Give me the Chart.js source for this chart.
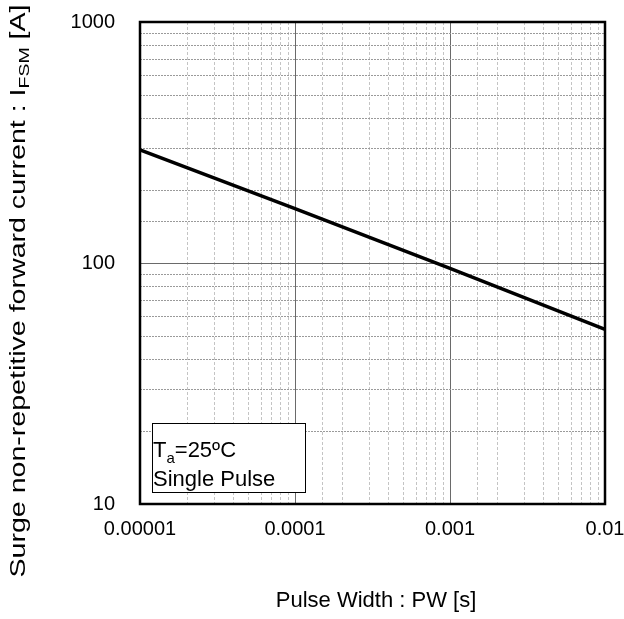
<!DOCTYPE html>
<html>
<head>
<meta charset="utf-8">
<script src="https://cdn.jsdelivr.net/npm/chart.js@4.4.1/dist/chart.umd.min.js"></script>
<style>
  html, body { margin: 0; padding: 0; background: #fff; }
  #wrap { width: 624px; height: 619px; }
</style>
</head>
<body>
<div id="wrap"><canvas id="surge-chart"></canvas></div>
<script>
// pulse width [s] and surge current [A]
const pulseWidth = [0.00001, 0.0001, 0.001, 0.01]
const surgeCurrent = [295, 168, 95, 53]

const xTickLabels = ['0.00001', '0.0001', '0.001', '0.01']
const yTickLabels = ['10', '100', '1000']

const FONT = '"Liberation Sans", Arial, sans-serif'

const isDecade = v => Math.abs(Math.log10(v) - Math.round(Math.log10(v))) < 1e-6

function decadeLabel(labels) {
    return function (value) {
        if (!isDecade(value)) return ''
        const hit = labels.find(l => Math.abs(parseFloat(l) - value) / value < 1e-6)
        return hit || ''
    }
}

// dashed minor grid + solid decade grid, drawn from the scale's own ticks
const gridPlugin = {
    id: 'logGrid',
    beforeDatasetsDraw(chart) {
        const { ctx, chartArea: a, scales } = chart
        ctx.save()
        scales.x.ticks.forEach(t => {
            const px = Math.round(scales.x.getPixelForValue(t.value)) + 0.5
            if (isDecade(t.value)) {
                ctx.strokeStyle = '#6a6a6a'; ctx.setLineDash([])
            } else {
                ctx.strokeStyle = '#c4c4c4'; ctx.setLineDash([3, 2])
            }
            ctx.lineWidth = 1
            ctx.beginPath(); ctx.moveTo(px, a.top); ctx.lineTo(px, a.bottom); ctx.stroke()
        })
        scales.y.ticks.forEach(t => {
            const py = Math.round(scales.y.getPixelForValue(t.value)) + 0.5
            if (isDecade(t.value)) {
                ctx.strokeStyle = '#6a6a6a'; ctx.setLineDash([])
            } else {
                ctx.strokeStyle = '#9a9a9a'; ctx.setLineDash([2, 1])
            }
            ctx.lineWidth = 1
            ctx.beginPath(); ctx.moveTo(a.left, py); ctx.lineTo(a.right, py); ctx.stroke()
        })
        ctx.restore()
    },
    afterDatasetsDraw(chart) {
        const { ctx, chartArea: a } = chart
        ctx.save()
        ctx.strokeStyle = '#000'
        ctx.lineWidth = 2.5
        ctx.strokeRect(a.left, a.top, a.right - a.left, a.bottom - a.top)

        // note box
        const bx = 152, by = 423, bw = 153, bh = 69
        ctx.fillStyle = '#fff'
        ctx.fillRect(bx, by, bw, bh)
        ctx.lineWidth = 1
        ctx.strokeRect(bx + 0.5, by + 0.5, bw, bh)
        ctx.fillStyle = '#000'
        ctx.textBaseline = 'alphabetic'
        ctx.textAlign = 'left'
        ctx.font = '22px ' + FONT
        let x = bx + 1
        ctx.fillText('T', x, 457)
        x += ctx.measureText('T').width
        ctx.font = '15px ' + FONT
        ctx.fillText('a', x, 463)
        x += ctx.measureText('a').width
        ctx.font = '22px ' + FONT
        ctx.fillText('=25ºC', x, 457)
        ctx.fillText('Single Pulse', bx + 1, 486)
        ctx.restore()
    },
    afterDraw(chart) {
        const { ctx } = chart
        ctx.save()
        ctx.fillStyle = '#000'
        ctx.textBaseline = 'middle'

        // x axis title
        ctx.font = '22px ' + FONT
        ctx.textAlign = 'center'
        ctx.fillText('Pulse Width : PW [s]', 376, 601)

        // y axis title with subscript, stretched along its length like the original
        const parts = [
            ['Surge non-repetitive forward current : I', '22px', 0],
            ['FSM', '15px', 6],
            [' [A]', '22px', 0]
        ]
        let total = 0
        parts.forEach(p => { ctx.font = p[1] + ' ' + FONT; total += ctx.measureText(p[0]).width })
        const stretch = 573 / total
        ctx.translate(19, 291)
        ctx.rotate(-Math.PI / 2)
        ctx.scale(stretch, 1)
        ctx.textAlign = 'left'
        let x = -total / 2
        parts.forEach(p => {
            ctx.font = p[1] + ' ' + FONT
            ctx.fillText(p[0], x, p[2])
            x += ctx.measureText(p[0]).width
        })
        ctx.restore()
    }
}

const data = {
    datasets: [{
        data: pulseWidth.map((w, i) => ({ x: w, y: surgeCurrent[i] })),
        borderColor: '#000',
        borderWidth: 3.5,
        pointRadius: 0,
        showLine: true,
        fill: false,
        tension: 0
    }]
}

const config = {
    type: 'scatter',
    data: data,
    options: {
        responsive: false,
        animation: false,
        layout: { padding: { left: 0, right: 19, top: 22, bottom: 0 } },
        plugins: {
            legend: { display: false },
            tooltip: { enabled: false }
        },
        scales: {
            x: {
                type: 'logarithmic',
                min: 0.00001,
                max: 0.01,
                grid: { display: false, drawTicks: false },
                border: { display: false },
                ticks: {
                    autoSkip: false,
                    maxRotation: 0,
                    padding: 13,
                    color: '#000',
                    font: { family: FONT, size: 20 },
                    callback: decadeLabel(xTickLabels)
                },
                afterFit(scale) {
                    scale.height = 115
                    scale.paddingLeft = 0
                    scale.paddingRight = 0
                }
            },
            y: {
                type: 'logarithmic',
                min: 10,
                max: 1000,
                grid: { display: false, drawTicks: false },
                border: { display: false },
                ticks: {
                    autoSkip: false,
                    padding: 25,
                    color: '#000',
                    font: { family: FONT, size: 20 },
                    callback: decadeLabel(yTickLabels)
                },
                afterFit(scale) {
                    scale.width = 140
                    scale.paddingTop = 0
                    scale.paddingBottom = 0
                }
            }
        }
    },
    plugins: [gridPlugin]
}

const el = document.getElementById('surge-chart')
el.width = 624
el.height = 619
const chart = new Chart(el, config)
</script>
</body>
</html>
